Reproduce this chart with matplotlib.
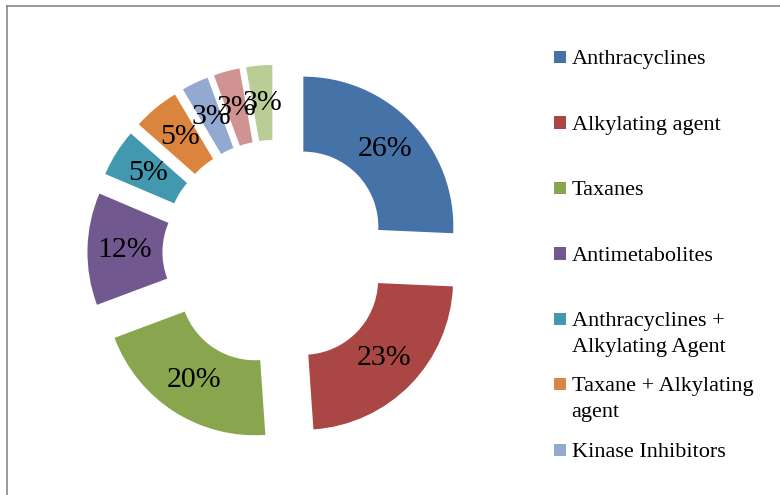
import matplotlib
matplotlib.use("Agg")
import matplotlib.pyplot as plt
from matplotlib.lines import Line2D
from matplotlib.patches import Rectangle

# ---- data ----
categories = ["Anthracyclines", "Alkylating agent", "Taxanes", "Antimetabolites",
              "Anthracyclines +\nAlkylating Agent", "Taxane + Alkylating\nagent",
              "Kinase Inhibitors"]
values = [25.7, 23.2, 20.4, 12.1, 5.1, 5.0, 2.9, 2.8, 2.8]
colors = ["#4572A7", "#AA4643", "#89A54E", "#71588F", "#4198AF",
          "#DB843D", "#93A9CF", "#D19392", "#B9CD96"]

FONT = "Liberation Serif"
W, H = 780, 495
fig = plt.figure(figsize=(W / 100, H / 100), dpi=100)
fig.patch.set_facecolor("white")

# axes covering the figure, 1 data unit = 150 px
R = 150.0
cx, cy = 275.7, H - 253.1
ax = fig.add_axes([0, 0, 1, 1])
wedges, texts, autotexts = ax.pie(
    values, colors=colors, explode=[0.255] * len(values), startangle=90,
    counterclock=False, radius=1, wedgeprops=dict(width=0.5, linewidth=0),
    autopct="%.0f%%", pctdistance=0.75,
    textprops=dict(fontsize=21.5, family=FONT, color="black"))
ax.set_xlim(-cx / R, (W - cx) / R)
ax.set_ylim(-cy / R, (H - cy) / R)
ax.set_aspect("auto")
ax.axis("off")

# ---- legend (manual, Excel style) ----
y0, step, pitch = 57.2, 65.4, 25.7
for i, name in enumerate(categories):
    yc = y0 + step * i
    nlines = name.count("\n")
    fig.add_artist(Rectangle((554 / W, 1 - (yc + 6.2) / H), 12.3 / W, 12.3 / H,
                             transform=fig.transFigure, color=colors[i], lw=0))
    fig.text(571.7 / W, 1 - (yc + 7.1 + nlines * pitch) / H, name,
             ha="left", va="baseline", fontsize=16, family=FONT,
             color="black", linespacing=1.5)

# ---- chart border (partially cropped) ----
bc = "#888888"
fig.add_artist(Line2D([7 / W, 1.01], [1 - 5.5 / H, 1 - 5.5 / H],
                      transform=fig.transFigure, color=bc, lw=1.2))
fig.add_artist(Line2D([7 / W, 7 / W], [-0.01, 1 - 5.5 / H],
                      transform=fig.transFigure, color=bc, lw=1.2))

fig.savefig("out.png", dpi=100, facecolor="white")
